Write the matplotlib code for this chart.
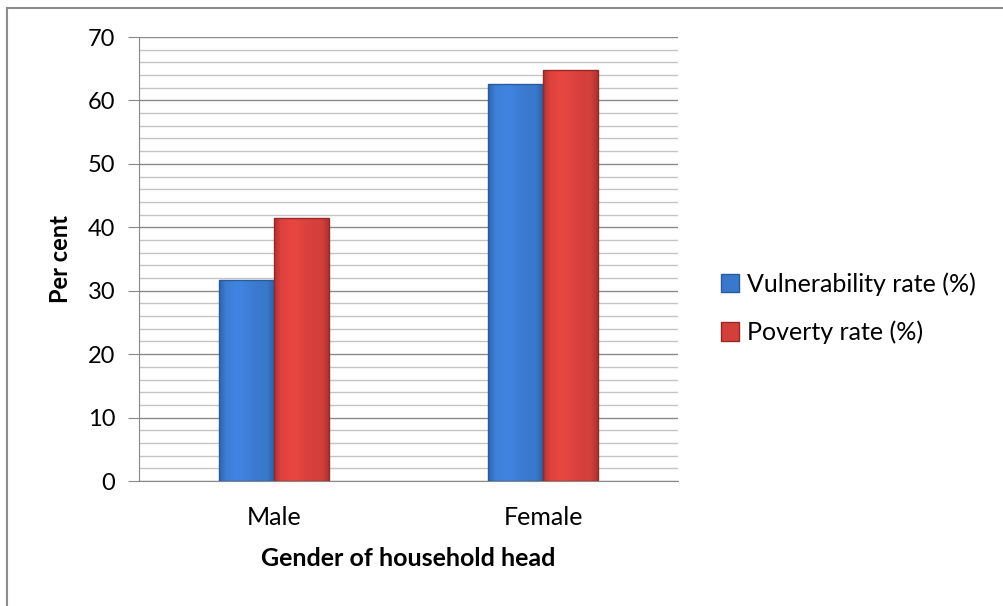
import matplotlib
matplotlib.use("Agg")
import matplotlib.pyplot as plt
import numpy as np
from matplotlib.patches import Rectangle

categories = ["Male", "Female"]
vulnerability = [31.7, 62.6]
poverty = [41.5, 64.8]
series_names = ["Vulnerability rate (%)", "Poverty rate (%)"]
yticks = [0, 10, 20, 30, 40, 50, 60, 70]

plt.rcParams['font.family'] = ['Lato', 'DejaVu Sans']

fig = plt.figure(figsize=(10.04, 6.06), dpi=100)
ax = fig.add_axes([139/1004, 1-481/606, (678-139)/1004, (481-37)/606])

x = np.arange(len(categories))
w = 0.204
colors = ["#3A78CC", "#D33F3B"]
edges = ["#2A5A9C", "#962826"]

def shaded_bar(xc, h, base, edge):
    rgb = np.array(matplotlib.colors.to_rgb(base))
    t = np.linspace(0, 1, 60)
    prof = 1.0 + 0.10*np.exp(-((t-0.35)/0.25)**2) - 0.18*(np.clip(np.abs(t-0.5)-0.38, 0, 1)/0.12)
    img = np.clip(rgb[None, None, :]*prof[None, :, None], 0, 1)
    im = ax.imshow(img, extent=[xc-w/2, xc+w/2, 0, h], aspect='auto', zorder=3, interpolation='bilinear')
    r = Rectangle((xc-w/2, 0), w, h, facecolor='none', edgecolor=edge, lw=1.0, zorder=4)
    ax.add_patch(r)
    im.set_clip_path(r)

for i in range(len(categories)):
    shaded_bar(x[i]-w/2, vulnerability[i], colors[0], edges[0])
    shaded_bar(x[i]+w/2, poverty[i], colors[1], edges[1])

ax.set_xlim(-0.5, 1.5)
ax.set_ylim(0, 70)
ax.set_yticks(yticks)
ax.set_yticks(np.arange(0, 71, 2), minor=True)
ax.set_xticks(x)
ax.set_xticklabels(categories, fontsize=18)
ax.tick_params(axis='y', which='major', labelsize=17, length=8, color='#888888', pad=9)
ax.tick_params(axis='y', which='minor', length=0)
ax.tick_params(axis='x', length=0, pad=18)
ax.grid(axis='y', which='major', color='#8a8a8a', lw=1.0, zorder=0)
ax.grid(axis='y', which='minor', color='#c4c4c4', lw=1.0, zorder=0)
ax.set_axisbelow(True)
for s in ['top', 'right']:
    ax.spines[s].set_visible(False)
ax.spines['left'].set_color('#888888')
ax.spines['bottom'].set_color('#888888')

ax.set_ylabel("Per cent", fontsize=17, fontweight='bold', labelpad=11)
ax.set_xlabel("Gender of household head", fontsize=18, fontweight='bold', labelpad=13)

handles = [Rectangle((0, 0), 1, 1, facecolor=colors[0], edgecolor=edges[0]),
           Rectangle((0, 0), 1, 1, facecolor=colors[1], edgecolor=edges[1])]
fig.legend(handles, series_names, loc='center left', bbox_to_anchor=(698/1004, 1-308/606),
           frameon=False, fontsize=18, handlelength=0.75, handleheight=0.75,
           handletextpad=0.3, labelspacing=1.0)

# outer frame
fig.add_artist(Rectangle((7/1004, -0.1), 1.2, 1-8/606+0.1, transform=fig.transFigure,
                         facecolor='none', edgecolor='#8c8c8c', lw=1.5))

fig.savefig("out.png", dpi=100)
